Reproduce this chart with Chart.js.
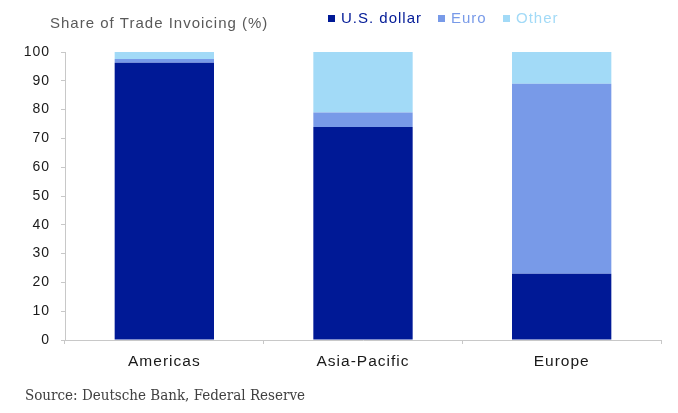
<!DOCTYPE html>
<html>
<head>
<meta charset="utf-8">
<script src="https://cdn.jsdelivr.net/npm/chart.js@4.4.0/dist/chart.umd.min.js"></script>
<style>
  html, body { margin: 0; padding: 0; background: #ffffff; }
  #wrap { width: 678px; height: 413px; position: relative; }
</style>
</head>
<body>
<div id="wrap"><canvas id="c" width="678" height="413"></canvas></div>
<script>
const categories = ["Americas", "Asia-Pacific", "Europe"];
const usDollar = [96.3, 74, 23];
const euro = [1.3, 5, 66];
const other = [2.4, 21, 11];
const yTicks = [0, 10, 20, 30, 40, 50, 60, 70, 80, 90, 100];

const seriesNames = ["U.S. dollar", "Euro", "Other"];
const seriesColors = ["#001996", "#789AE8", "#A2DAF7"];
const titleText = "Share of Trade Invoicing (%)";
const sourceText = "Source: Deutsche Bank, Federal Reserve";

const SANS = '"Liberation Sans", Arial, sans-serif';

const spacingPlugin = {
  id: 'spacing',
  beforeUpdate(chart) { chart.ctx.letterSpacing = '1px'; },
  beforeDraw(chart) { chart.ctx.letterSpacing = '1px'; }
};

const decorPlugin = {
  id: 'decor',
  afterDraw(chart) {
    const ctx = chart.ctx;
    ctx.save();
    ctx.letterSpacing = '1px';
    // title
    ctx.font = '15px ' + SANS;
    ctx.fillStyle = '#595959';
    ctx.textBaseline = 'middle';
    ctx.textAlign = 'left';
    ctx.fillText(titleText, 50, 24);
    // legend
    const legendX = [328, 438, 503];
    seriesNames.forEach((name, i) => {
      ctx.fillStyle = seriesColors[i];
      ctx.fillRect(legendX[i], 15, 7, 7);
      ctx.font = '15px ' + SANS;
      ctx.fillText(name, legendX[i] + 13, 18.5);
    });
    // source
    ctx.letterSpacing = '0px';
    ctx.font = '15px "DejaVu Serif Condensed", "DejaVu Serif", serif';
    ctx.fillStyle = '#404040';
    ctx.fillText(sourceText, 25, 396);
    ctx.restore();
  }
};

new Chart(document.getElementById('c'), {
  type: 'bar',
  data: {
    labels: categories,
    datasets: [
      { label: seriesNames[0], data: usDollar, backgroundColor: seriesColors[0] },
      { label: seriesNames[1], data: euro, backgroundColor: seriesColors[1] },
      { label: seriesNames[2], data: other, backgroundColor: seriesColors[2] }
    ]
  },
  options: {
    responsive: false,
    animation: false,
    devicePixelRatio: 1,
    layout: { padding: { left: 0, right: 17, top: 52, bottom: 33 } },
    datasets: { bar: { barPercentage: 0.5, categoryPercentage: 1.0, borderWidth: 0 } },
    plugins: { legend: { display: false }, tooltip: { enabled: false }, title: { display: false } },
    scales: {
      x: {
        stacked: true,
        grid: { display: true, drawOnChartArea: false, drawTicks: true, tickLength: 4, color: '#c8c8c8', offset: true },
        border: { display: true, color: '#c8c8c8', width: 1 },
        ticks: { color: '#1a1a1a', font: { family: SANS, size: 15.5 }, padding: 8, maxRotation: 0 },
        afterFit(scale) { scale.height = 40; }
      },
      y: {
        stacked: true,
        min: 0,
        max: 100,
        afterBuildTicks(scale) { scale.ticks = yTicks.map(v => ({ value: v })); },
        grid: { display: true, drawOnChartArea: false, drawTicks: true, tickLength: 4, color: '#c8c8c8' },
        border: { display: true, color: '#c8c8c8', width: 1 },
        ticks: { color: '#1a1a1a', font: { family: SANS, size: 14 }, padding: 11 },
        afterFit(scale) { scale.width = 65; }
      }
    }
  },
  plugins: [spacingPlugin, decorPlugin]
});
</script>
</body>
</html>
